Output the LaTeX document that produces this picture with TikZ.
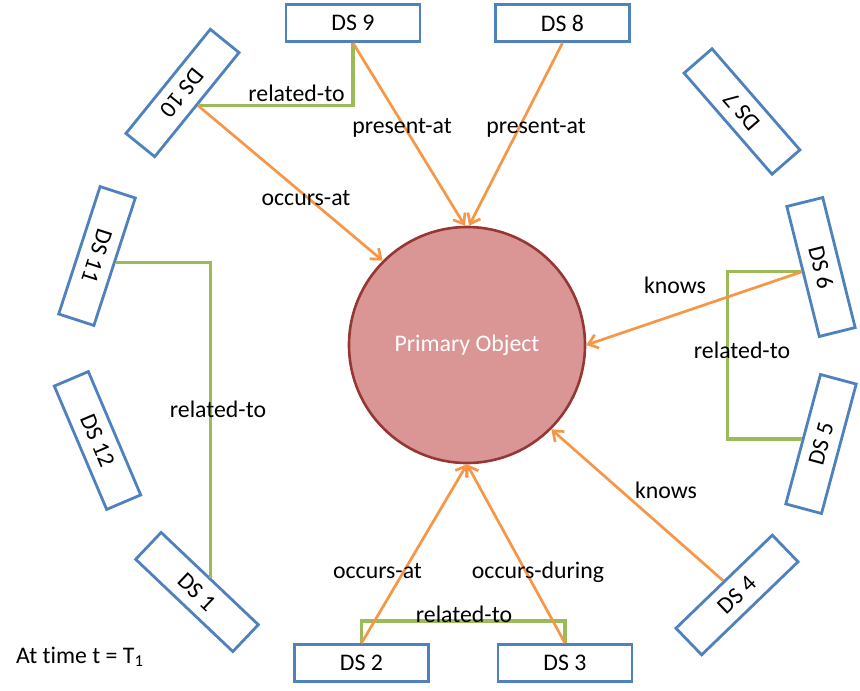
\documentclass[tikz,border=0pt]{standalone}
\usepackage{fontspec}
\setmainfont{Carlito}[Ligatures=NoCommon]
\usepackage{tikz}
\usetikzlibrary{calc}
\usetikzlibrary{arrows.meta}
\definecolor{dsblue}{HTML}{4F81BD}
\definecolor{relorange}{HTML}{F79646}
\definecolor{relgreen}{HTML}{9BBB59}
\definecolor{objfill}{HTML}{D99694}
\definecolor{objdraw}{HTML}{953735}
\tikzset{
  dsbox/.style={draw=dsblue, line width=2.8pt, fill=white, inner sep=0pt,
    minimum width=134pt, minimum height=37pt},
  relarrow/.style={draw=relorange, line width=2.7pt,
    -{Straight Barb[length=9pt,width=14pt]}},
  relline/.style={draw=relgreen, line width=3.3pt},
  rellabel/.style={inner sep=0pt, anchor=base}
}
\newcommand{\dsnode}[5]{\node[dsbox,rotate=#4] (#1) at ( #2 , #3 ) {#5};}
\newcommand{\relnode}[4]{\node[rellabel] (#1) at ( #2 , #3 ) {#4};}

\begin{document}
\begin{tikzpicture}[x=1pt, y=-1pt, font=\fontsize{23.8}{28}\selectfont]
        \useasboundingbox (0,0) rectangle (860,691);
        % primary object
        \node[circle, draw=objdraw, fill=objfill, line width=2.6pt, minimum size=236pt,
          text=white] (obj) at (467,345) {Primary Object};
        % top row
        \dsnode{ds9}{353}{23}{0}{DS 9}
        \dsnode{ds8}{562.5}{23}{0}{DS 8}
        % right side
        \dsnode{ds7}{742}{111.5}{131}{DS 7}
        \dsnode{ds6}{821}{267}{-76}{DS 6}
        \dsnode{ds5}{821}{444}{75}{DS 5}
        \dsnode{ds4}{737}{595}{44}{DS 4}
        % bottom row
        \dsnode{ds3}{565}{663}{0}{DS 3}
        \dsnode{ds2}{361.5}{663}{0}{DS 2}
        % left side
        \dsnode{ds1}{197}{592}{-43.5}{DS 1}
        \dsnode{ds12}{97.5}{440.5}{-67}{DS 12}
        \dsnode{ds11}{97}{256}{-108}{DS 11}
        \dsnode{ds10}{182.5}{93}{-129}{DS 10}
        % related-to lines
        \draw[relline] (ds10.north) -| (ds9.south);
        \draw[relline] (ds6.south) -- ++(-74,0) |- (ds5.north);
        \draw[relline] (ds2.north) -- ++(0,-22) -| (ds3.north);
        \draw[relline] (ds11.north) -| (ds1.north);
        % arrows to the primary object
        \draw[relarrow] (ds10.north) -- (obj.135);
        \draw[relarrow] (ds9.south) -- (obj.91);
        \draw[relarrow] (ds8.south) -- (obj.89);
        \draw[relarrow] (ds6.south) -- (obj.0);
        \draw[relarrow] (ds4.north) -- (obj.-45);
        \draw[relarrow] (ds2.north) -- (obj.-90);
        \draw[relarrow] (ds3.north) -- (obj.-90);
        % labels
        \relnode{rel109}{296.5}{101}{related-to}
        \relnode{pres9}{402}{133}{present-at}
        \relnode{pres8}{536}{133}{present-at}
        \relnode{occ10}{306}{205}{occurs-at}
        \relnode{know6}{675}{293}{knows}
        \relnode{rel65}{742}{358}{related-to}
        \relnode{know4}{666}{498}{knows}
        \relnode{rel111}{218}{417}{related-to}
        \relnode{occ2}{377.5}{578}{occurs-at}
        \relnode{occ3}{538}{578}{occurs-during}
        \relnode{rel23}{464}{622}{related-to}
        \node[inner sep=0pt, anchor=base west] (time) at (16,663) {At time t = T\textsubscript{1}};
\end{tikzpicture}
\end{document}
